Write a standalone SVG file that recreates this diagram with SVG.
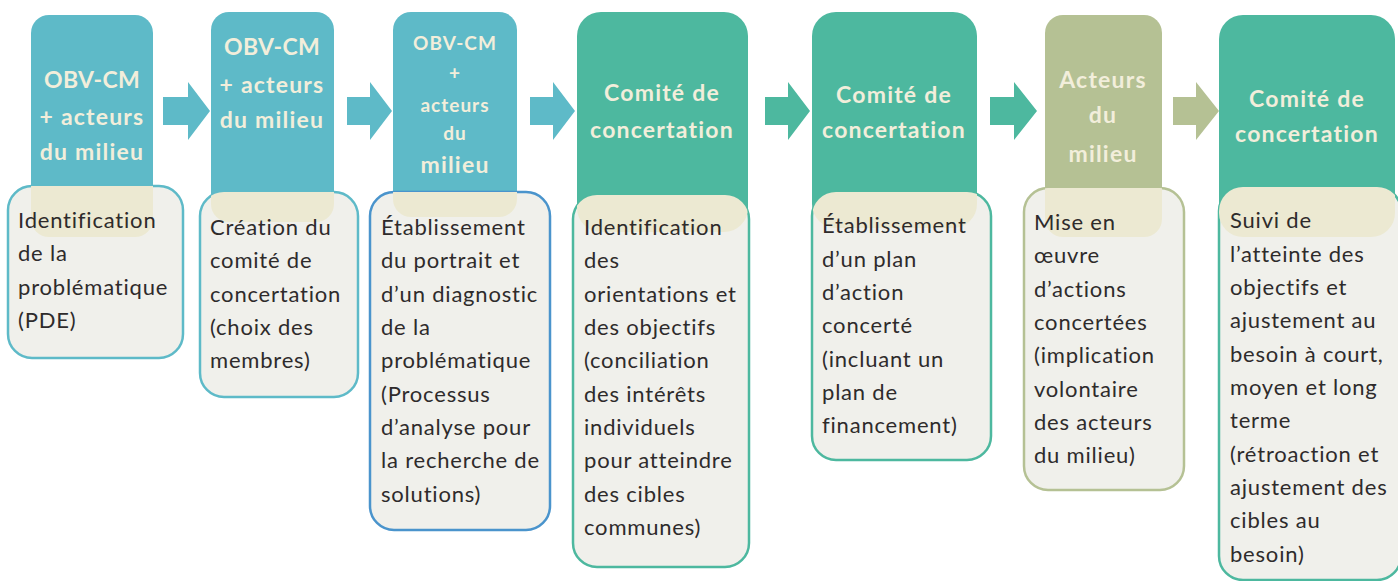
<svg xmlns="http://www.w3.org/2000/svg" width="1398" height="581" viewBox="0 0 1398 581">
  <defs>
    <style>
      .hd-blue { fill: #5ebac8; }
      .hd-green { fill: #4db89f; }
      .hd-olive { fill: #b5c194; }
      .under { fill: #ece9d2; }
      .box { fill: #f0f0eb; stroke-width: 2.5; }
      .bx-blue { stroke: #5ebac8; }
      .bx-deep { stroke: #4a94cc; }
      .bx-green { stroke: #4db89f; }
      .bx-olive { stroke: #b5c194; }
      .ht { font-family: Lato, "Liberation Sans", sans-serif; font-weight: bold; fill: #f2eedb; text-anchor: middle; font-size: 23px; letter-spacing: 1.2px; }
      .ht-caps { letter-spacing: 0.3px; }
      .ht-sm { font-size: 19px; letter-spacing: 1px; }
      .bt { font-family: Lato, "Liberation Sans", sans-serif; fill: #2e2b2b; font-size: 22px; letter-spacing: 0.8px; }
      .ar-blue { fill: #5ebac8; }
      .ar-green { fill: #4db89f; }
      .ar-olive { fill: #b5c194; }
    </style>
    <clipPath id="c1"><rect x="8" y="186" width="175" height="172" rx="24"/></clipPath>
    <clipPath id="c2"><rect x="200" y="192" width="158" height="205" rx="24"/></clipPath>
    <clipPath id="c3"><rect x="370" y="192" width="180" height="338" rx="24"/></clipPath>
    <clipPath id="c4"><rect x="573" y="195" width="176" height="372" rx="24"/></clipPath>
    <clipPath id="c5"><rect x="812" y="192" width="179" height="268" rx="24"/></clipPath>
    <clipPath id="c6"><rect x="1024" y="188" width="160" height="302" rx="24"/></clipPath>
    <clipPath id="c7"><rect x="1219" y="187" width="182" height="393" rx="24"/></clipPath>
  </defs>

  <!-- step arrows -->
  <g id="connectors">
    <polygon class="ar-blue" points="163,97 188,97 188,82 210,111 188,140 188,125 163,125"/>
    <polygon class="ar-blue" points="347,97 370,97 370,82 392,111 370,140 370,125 347,125"/>
    <polygon class="ar-blue" points="530,97 553,97 553,82 575,111 553,140 553,125 530,125"/>
    <polygon class="ar-green" points="765,97 788,97 788,82 810,111 788,140 788,125 765,125"/>
    <polygon class="ar-green" points="990,97 1014,97 1014,82 1037,111 1014,140 1014,125 990,125"/>
    <polygon class="ar-olive" points="1173,97 1196,97 1196,82 1219,111 1196,140 1196,125 1173,125"/>
  </g>

  <!-- step 1 -->
  <g id="step1">
    <rect class="hd-blue" x="31" y="15" width="122" height="222" rx="18"/>
    <rect class="box bx-blue" x="8" y="186" width="175" height="172" rx="24"/>
    <rect class="under" x="31" y="15" width="122" height="222" rx="18" clip-path="url(#c1)"/>
    <text class="ht ht-caps" x="92" y="88">OBV-CM</text>
    <text class="ht" x="92" y="125">+ acteurs</text>
    <text class="ht" x="92" y="160">du milieu</text>
    <text class="bt"><tspan x="18" y="228">Identification</tspan><tspan x="18" y="261">de la</tspan><tspan x="18" y="295">problématique</tspan><tspan x="18" y="328">(PDE)</tspan></text>
  </g>

  <!-- step 2 -->
  <g id="step2">
    <rect class="hd-blue" x="211" y="12" width="123" height="210" rx="18"/>
    <rect class="box bx-blue" x="200" y="192" width="158" height="205" rx="24"/>
    <rect class="under" x="211" y="12" width="123" height="210" rx="18" clip-path="url(#c2)"/>
    <text class="ht ht-caps" x="272" y="55">OBV-CM</text>
    <text class="ht" x="272" y="93">+ acteurs</text>
    <text class="ht" x="272" y="128">du milieu</text>
    <text class="bt"><tspan x="210" y="235">Création du</tspan><tspan x="210" y="268">comité de</tspan><tspan x="210" y="302">concertation</tspan><tspan x="210" y="335">(choix des</tspan><tspan x="210" y="368">membres)</tspan></text>
  </g>

  <!-- step 3 -->
  <g id="step3">
    <rect class="hd-blue" x="393" y="12" width="124" height="205" rx="18"/>
    <rect class="box bx-deep" x="370" y="192" width="180" height="338" rx="24"/>
    <rect class="under" x="393" y="12" width="124" height="205" rx="18" clip-path="url(#c3)"/>
    <text class="ht ht-sm" x="455" y="50">OBV-CM</text>
    <text class="ht ht-sm" x="455" y="80">+</text>
    <text class="ht ht-sm" x="455" y="112">acteurs</text>
    <text class="ht ht-sm" x="455" y="140">du</text>
    <text class="ht" x="455" y="173">milieu</text>
    <text class="bt"><tspan x="381" y="235">Établissement</tspan><tspan x="381" y="268">du portrait et</tspan><tspan x="381" y="302">d’un diagnostic</tspan><tspan x="381" y="335">de la</tspan><tspan x="381" y="368">problématique</tspan><tspan x="381" y="402">(Processus</tspan><tspan x="381" y="435">d’analyse pour</tspan><tspan x="381" y="468">la recherche de</tspan><tspan x="381" y="502">solutions)</tspan></text>
  </g>

  <!-- step 4 -->
  <g id="step4">
    <rect class="hd-green" x="577" y="12" width="171" height="220" rx="24"/>
    <rect class="box bx-green" x="573" y="195" width="176" height="372" rx="24"/>
    <rect class="under" x="577" y="12" width="171" height="220" rx="24" clip-path="url(#c4)"/>
    <text class="ht" x="662" y="101">Comité de</text>
    <text class="ht" x="662" y="138">concertation</text>
    <text class="bt"><tspan x="584" y="235">Identification</tspan><tspan x="584" y="268">des</tspan><tspan x="584" y="302">orientations et</tspan><tspan x="584" y="335">des objectifs</tspan><tspan x="584" y="368">(conciliation</tspan><tspan x="584" y="402">des intérêts</tspan><tspan x="584" y="435">individuels</tspan><tspan x="584" y="468">pour atteindre</tspan><tspan x="584" y="502">des cibles</tspan><tspan x="584" y="535">communes)</tspan></text>
  </g>

  <!-- step 5 -->
  <g id="step5">
    <rect class="hd-green" x="812" y="12" width="165" height="216" rx="24"/>
    <rect class="box bx-green" x="812" y="192" width="179" height="268" rx="24"/>
    <rect class="under" x="812" y="12" width="165" height="216" rx="24" clip-path="url(#c5)"/>
    <text class="ht" x="894" y="103">Comité de</text>
    <text class="ht" x="894" y="138">concertation</text>
    <text class="bt"><tspan x="822" y="233">Établissement</tspan><tspan x="822" y="267">d’un plan</tspan><tspan x="822" y="300">d’action</tspan><tspan x="822" y="333">concerté</tspan><tspan x="822" y="367">(incluant un</tspan><tspan x="822" y="400">plan de</tspan><tspan x="822" y="433">financement)</tspan></text>
  </g>

  <!-- step 6 -->
  <g id="step6">
    <rect class="hd-olive" x="1045" y="15" width="117" height="222" rx="18"/>
    <rect class="box bx-olive" x="1024" y="188" width="160" height="302" rx="24"/>
    <rect class="under" x="1045" y="15" width="117" height="222" rx="18" clip-path="url(#c6)"/>
    <text class="ht" x="1103" y="88">Acteurs</text>
    <text class="ht" x="1103" y="123">du</text>
    <text class="ht" x="1103" y="162">milieu</text>
    <text class="bt"><tspan x="1034" y="230">Mise en</tspan><tspan x="1034" y="263">œuvre</tspan><tspan x="1034" y="297">d’actions</tspan><tspan x="1034" y="330">concertées</tspan><tspan x="1034" y="363">(implication</tspan><tspan x="1034" y="397">volontaire</tspan><tspan x="1034" y="430">des acteurs</tspan><tspan x="1034" y="463">du milieu)</tspan></text>
  </g>

  <!-- step 7 -->
  <g id="step7">
    <rect class="hd-green" x="1219" y="15" width="176" height="222" rx="24"/>
    <rect class="box bx-green" x="1219" y="187" width="182" height="393" rx="24"/>
    <rect class="under" x="1219" y="15" width="176" height="222" rx="24" clip-path="url(#c7)"/>
    <text class="ht" x="1307" y="107">Comité de</text>
    <text class="ht" x="1307" y="142">concertation</text>
    <text class="bt"><tspan x="1230" y="228">Suivi de</tspan><tspan x="1230" y="262">l’atteinte des</tspan><tspan x="1230" y="295">objectifs et</tspan><tspan x="1230" y="328">ajustement au</tspan><tspan x="1230" y="362">besoin à court,</tspan><tspan x="1230" y="395">moyen et long</tspan><tspan x="1230" y="428">terme</tspan><tspan x="1230" y="462">(rétroaction et</tspan><tspan x="1230" y="495">ajustement des</tspan><tspan x="1230" y="528">cibles au</tspan><tspan x="1230" y="562">besoin)</tspan></text>
  </g>
</svg>
